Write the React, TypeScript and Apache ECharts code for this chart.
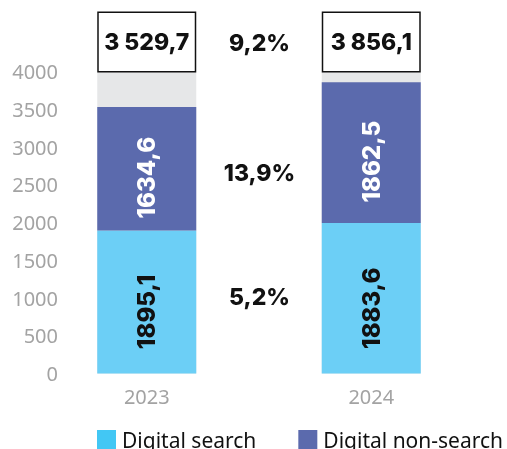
import React, { useEffect, useRef } from "react";
import * as echarts from "echarts";

const years = ["2023", "2024"];
const searchValues = [1895.1, 1993.6];
const nonSearchValues = [1634.6, 1862.5];
// Text printed inside the bars, as in the source picture
const searchLabels = ["1895,1", "1883,6"];
const nonSearchLabels = ["1634,6", "1862,5"];
const seriesNames = ["Digital search", "Digital non-search"];
const yMin = 0;
const yMax = 4000;
const yInterval = 500;

const fmtTotal = (v: number) => {
  const [i, d] = v.toFixed(1).split(".");
  return i.replace(/\B(?=(\d{3})+(?!\d))/g, " ") + "," + d;
};
const fmtPct = (a: number, b: number) => ((b / a - 1) * 100).toFixed(1).replace(".", ",") + "%";

export default function App() {
  const ref = useRef<HTMLDivElement>(null);
  useEffect(() => {
    if (!ref.current) return;
    const chart = echarts.init(ref.current, null, { renderer: "svg" });
    const totals = years.map((_, i) => searchValues[i] + nonSearchValues[i]);
    const boldFont = "Inter";
    const pctStyle = { fontFamily: boldFont, fontWeight: 800, fontSize: 23, fill: "#111", textAlign: "center", textVerticalAlign: "middle" };
    chart.setOption({
      animation: false,
      grid: { left: 34.5, right: 23.5, top: 71.5, height: 302, containLabel: false },
      xAxis: {
        type: "category",
        data: years,
        axisLine: { show: false },
        axisTick: { show: false },
        axisLabel: { color: "#a3a3a3", fontFamily: "Noto Sans", fontSize: 20, margin: 13 },
      },
      yAxis: {
        type: "value",
        min: yMin,
        max: yMax,
        interval: yInterval,
        splitLine: { show: false },
        axisLine: { show: false },
        axisTick: { show: false },
        axisLabel: {
          color: "#a3a3a3",
          fontFamily: "Noto Sans",
          fontSize: 20,
          margin: -23.5,
          formatter: (v: number) => String(v),
        },
      },
      legend: {
        left: 97,
        top: 429,
        padding: 0,
        itemWidth: 19,
        itemHeight: 19,
        itemGap: 42,
        icon: "rect",
        textStyle: { fontFamily: "Noto Sans", fontSize: 21, color: "#111", padding: [0, 0, 0, 1] },
        data: [
          { name: seriesNames[0], itemStyle: { color: "#42c7f4" } },
          { name: seriesNames[1], itemStyle: { color: "#5b6aad" } },
        ],
      },
      series: [
        {
          name: seriesNames[0],
          type: "bar",
          stack: "a",
          barWidth: 99,
          data: searchValues,
          itemStyle: { color: "#6ccff6" },
          showBackground: true,
          backgroundStyle: { color: "#e6e7e8" },
          label: {
            show: true,
            position: "inside",
            rotate: 90,
            offset: [-10, 0],
            fontFamily: boldFont,
            fontWeight: 800,
            fontSize: 24,
            color: "#111",
            formatter: (p: any) => searchLabels[p.dataIndex],
          },
        },
        {
          name: seriesNames[1],
          type: "bar",
          stack: "a",
          barWidth: 99,
          data: nonSearchValues,
          itemStyle: { color: "#5b6aad" },
          label: {
            show: true,
            position: "inside",
            rotate: 90,
            offset: [-9, 0],
            fontFamily: boldFont,
            fontWeight: 800,
            fontSize: 24,
            color: "#fff",
            formatter: (p: any) => nonSearchLabels[p.dataIndex],
          },
        },
        {
          name: "total",
          type: "scatter",
          symbol: "rect",
          symbolSize: 1,
          silent: true,
          itemStyle: { color: "rgba(0,0,0,0)", opacity: 1 },
          data: years.map((y) => [y, yMax]),
          label: {
            show: true,
            position: "top",
            distance: 0,
            width: 96,
            height: 58,
            lineHeight: 58,
            align: "center",
            opacity: 1,
            backgroundColor: "#fff",
            borderColor: "#111",
            borderWidth: 1.5,
            fontFamily: boldFont,
            fontWeight: 800,
            fontSize: 23,
            color: "#111",
            formatter: (p: any) => fmtTotal(totals[p.dataIndex]),
          },
        },
      ],
      graphic: [
        { type: "text", x: 259.5, y: 43, style: { ...pctStyle, text: fmtPct(totals[0], totals[1]) } },
        { type: "text", x: 259.5, y: 173, style: { ...pctStyle, text: fmtPct(nonSearchValues[0], nonSearchValues[1]) } },
        { type: "text", x: 259.5, y: 297, style: { ...pctStyle, text: fmtPct(searchValues[0], searchValues[1]) } },
      ],
    });
    return () => chart.dispose();
  }, []);
  return <div ref={ref} style={{ position: "fixed", left: 0, top: 0, width: 507, height: 449 }} />;
}
